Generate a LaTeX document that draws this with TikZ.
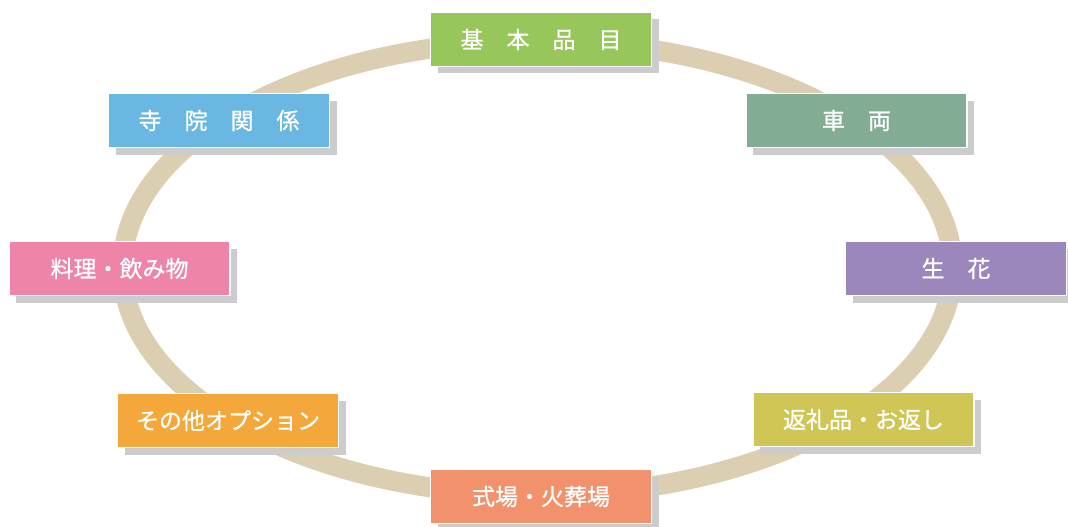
\documentclass[tikz,border=0pt]{standalone}
\usepackage{fontspec}
\newfontfamily\jpfont[FakeBold=0.8]{Noto Sans CJK JP}
\usetikzlibrary{shadows}

\definecolor{ringbeige}{HTML}{DCCEB0}
\definecolor{boxshadow}{HTML}{CCCCCC}
\definecolor{basegreen}{HTML}{97C65A}
\definecolor{carteal}{HTML}{82AD94}
\definecolor{flowerpurple}{HTML}{9B87BB}
\definecolor{giftolive}{HTML}{CFC656}
\definecolor{hallsalmon}{HTML}{F1926C}
\definecolor{optorange}{HTML}{F4A83C}
\definecolor{foodpink}{HTML}{EE84A8}
\definecolor{templeblue}{HTML}{6BB7E3}

\tikzset{
  itembox/.style={draw=white, line width=1.5pt, minimum width=221pt,
    minimum height=54pt, inner sep=0pt, text=white,
    font=\jpfont\fontsize{23}{23}\selectfont,
    drop shadow={shadow xshift=7pt, shadow yshift=-7pt, fill=boxshadow, opacity=1}},
}

\begin{document}
\begin{tikzpicture}[x=1pt, y=-1pt]
      \useasboundingbox (0,0) rectangle (1068,527);

      % ring behind the boxes
      \draw[ringbeige, line width=20pt] (537.5,268) ellipse [x radius=415, y radius=227];

      \node[itembox, fill=basegreen]    (base)    at (541,39.5)   {基　本　品　目};
      \node[itembox, fill=carteal]      (car)     at (856.5,120.5) {車　両};
      \node[itembox, fill=flowerpurple] (flower)  at (956,268.5)  {生　花};
      \node[itembox, fill=giftolive]    (gift)    at (863.5,419.5) {返礼品・お返し};
      \node[itembox, fill=hallsalmon]   (hall)    at (541,496.5)  {式場・火葬場};
      \node[itembox, fill=optorange]    (option)  at (228,420.5)  {その他オプション};
      \node[itembox, fill=foodpink]     (food)    at (119.5,268.5) {料理・飲み物};
      \node[itembox, fill=templeblue]   (temple)  at (219,120.5)  {寺　院　関　係};
    \end{tikzpicture}
\end{document}
